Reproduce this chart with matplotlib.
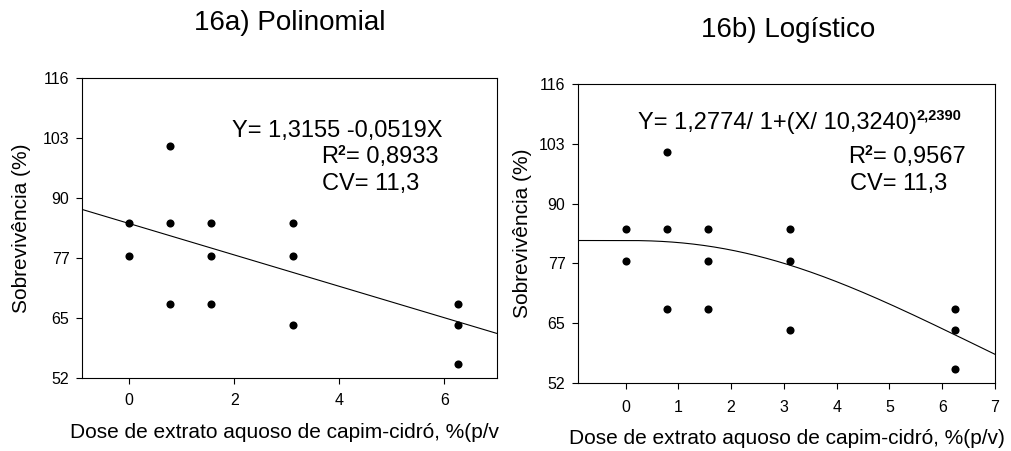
import numpy as np
import matplotlib
matplotlib.use('Agg')
import matplotlib.pyplot as plt
from matplotlib.patches import Rectangle

plt.rcParams['font.family'] = ['Liberation Sans', 'DejaVu Sans']

# ---- data ----
dose = [0, 0, 0.78125, 0.78125, 0.78125, 1.5625, 1.5625, 1.5625,
        3.125, 3.125, 3.125, 6.25, 6.25, 6.25]
surv = [85.0, 78.1, 101.4, 85.0, 67.8, 85.0, 78.1, 67.8,
        85.0, 78.1, 63.3, 67.8, 63.3, 55.0]

y_ticks = [52, 64.8, 77.6, 90.4, 103.2, 116]
y_tick_labels = ['52', '65', '77', '90', '103', '116']
x_ticks_a = [0, 2, 4, 6]
x_ticks_b = [0, 1, 2, 3, 4, 5, 6, 7]

# fitted models (in plotted units)
lin_intercept = 84.95
lin_slope = -3.35
log_a = 82.5
log_b = 10.324
log_c = 2.239

title_a = '16a) Polinomial'
title_b = '16b) Logístico'
ylabel = 'Sobrevivência (%)'
xlabel = 'Dose de extrato aquoso de capim-cidró, %(p/v)'

W, H = 1012, 451
fig = plt.figure(figsize=(W / 100, H / 100), dpi=100)


def ax_px(x0, y0, x1, y1):
    return fig.add_axes([x0 / W, 1 - y1 / H, (x1 - x0) / W, (y1 - y0) / H])


axA = ax_px(82, 78, 497, 378)
axB = ax_px(578, 84, 995, 383)

xfit = np.linspace(-0.9, 7, 200)
for ax, xt, pad in [(axA, x_ticks_a, 6.5), (axB, x_ticks_b, 8)]:
    ax.scatter(dose, surv, s=34, color='black', zorder=3, linewidths=0)
    ax.set_xlim(-0.9, 7)
    ax.set_ylim(52, 116)
    ax.set_yticks(y_ticks)
    ax.set_yticklabels(y_tick_labels)
    ax.set_xticks(xt)
    ax.set_xticklabels([str(v) for v in xt])
    ax.tick_params(axis='x', direction='out', length=4, width=0.8,
                   labelsize=11.5, pad=pad)
    ax.tick_params(axis='y', direction='out', length=4, width=0.8,
                   labelsize=11.5, pad=5)
    for sp in ax.spines.values():
        sp.set_linewidth(0.8)
        sp.set_color('black')
    ax.set_ylabel(ylabel, fontsize=15, va='center')

axA.plot(xfit, lin_intercept + lin_slope * xfit, color='black', lw=0.8)
axB.plot(xfit, log_a / (1 + (np.clip(xfit, 0, None) / log_b) ** log_c),
         color='black', lw=0.8)

axA.yaxis.set_label_coords((22 - 82) / 415, 0.5)
axB.yaxis.set_label_coords((522 - 578) / 417, 0.5)

axA.set_xlabel(xlabel, fontsize=15, va='baseline')
axA.xaxis.set_label_coords((287.5 - 82) / 415, (378 - 438) / 300)
axB.set_xlabel(xlabel, fontsize=15, va='baseline')
axB.xaxis.set_label_coords(0.5, (383 - 444) / 299)

# the right panel's white background hides the end of the left x label
fig.patches.append(Rectangle((499 / W, 0), (560 - 499) / W, (451 - 412) / H,
                             transform=fig.transFigure, facecolor='white',
                             edgecolor='none', zorder=5))

fig.text(289.5 / W, 1 - 30 / H, title_a, fontsize=20, ha='center', va='baseline')
fig.text(788 / W, 1 - 37 / H, title_b, fontsize=20, ha='center', va='baseline')

renderer = fig.canvas.get_renderer()


def rich(x_px, y_px, pieces, align='left'):
    # pieces: (text, size, weight, raise_px)
    objs = []
    x = x_px
    for s, size, weight, dy in pieces:
        t = fig.text(x / W, 1 - (y_px - dy) / H, s, fontsize=size,
                     fontweight=weight, ha='left', va='baseline')
        bb = t.get_window_extent(renderer=renderer)
        x = bb.x1
        objs.append(t)
    if align == 'right':
        shift = x - x_px
        for t in objs:
            px, py = t.get_position()
            t.set_position((px - shift / W, py))
    return objs


EQ = 17
# panel a
rich(232, 137, [('Y= 1,3155 -0,0519X', EQ, 'normal', 0)])
rich(438, 163, [('R', EQ, 'normal', 0), ('2', 10, 'bold', 8),
                ('= 0,8933', EQ, 'normal', 0)], align='right')
rich(322, 190, [('CV= 11,3', EQ, 'normal', 0)])
# panel b
rich(638, 129, [('Y= 1,2774/ 1+(X/ 10,3240)', EQ, 'normal', 0),
                ('2,2390', 10.5, 'bold', 10)])
rich(848, 163, [('R', EQ, 'normal', 0), ('2', 10, 'bold', 8),
                ('= 0,9567', EQ, 'normal', 0)])
rich(850, 190, [('CV= 11,3', EQ, 'normal', 0)])

fig.savefig('out.png', dpi=100)
